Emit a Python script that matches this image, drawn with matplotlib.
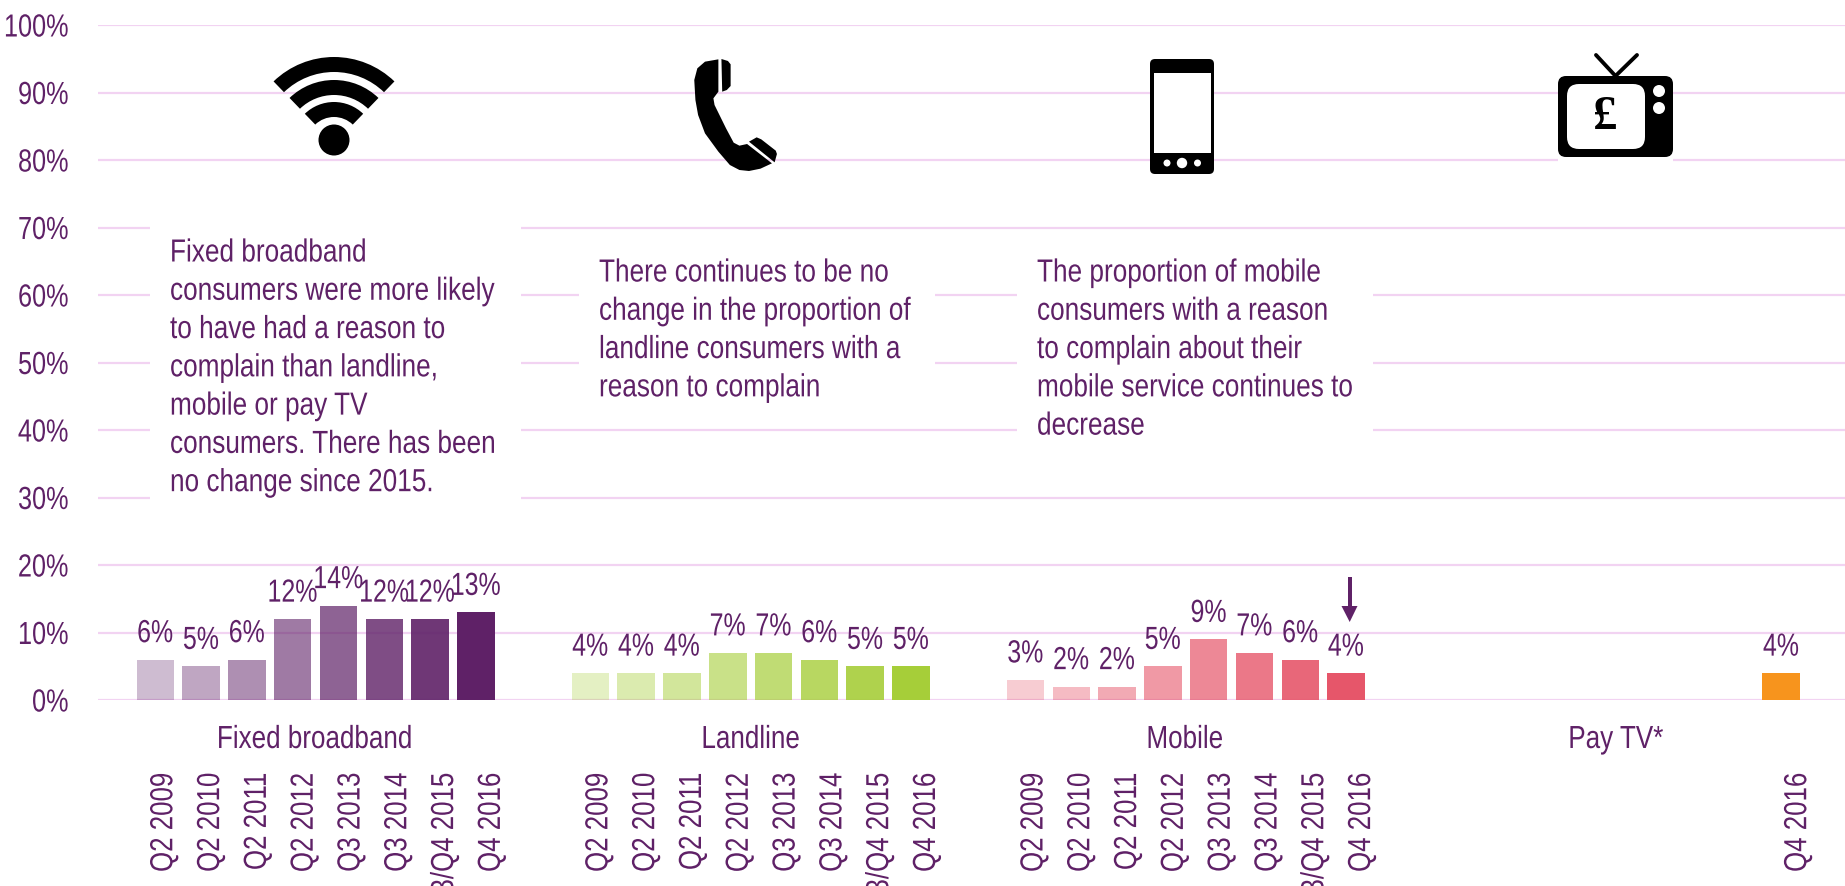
import matplotlib
matplotlib.use("Agg")
import matplotlib.pyplot as plt
from matplotlib.patches import Wedge, Circle, Ellipse, FancyBboxPatch, Rectangle, Polygon
from matplotlib.patheffects import AbstractPathEffect
from matplotlib.transforms import Affine2D, ScaledTranslation

quarters = ["Q2 2009", "Q2 2010", "Q2 2011", "Q2 2012", "Q3 2013", "Q3 2014", "Q3/Q4 2015", "Q4 2016"]
fixed_vals = [6, 5, 6, 12, 14, 12, 12, 13]
landline_vals = [4, 4, 4, 7, 7, 6, 5, 5]
mobile_vals = [3, 2, 2, 5, 9, 7, 6, 4]
paytv_vals = [4]
paytv_quarters = ["Q4 2016"]
group_names = ["Fixed broadband", "Landline", "Mobile", "Pay TV*"]
yticks = [0, 10, 20, 30, 40, 50, 60, 70, 80, 90, 100]

fixed_text = "Fixed broadband\nconsumers were more likely\nto have had a reason to\ncomplain than landline,\nmobile or pay TV\nconsumers. There has been\nno change since 2015."
landline_text = "There continues to be no\nchange in the proportion of\nlandline consumers with a\nreason to complain"
mobile_text = "The proportion of mobile\nconsumers with a reason\nto complain about their\nmobile service continues to\ndecrease"

PURPLE = "#5F2167"
GRID = "#F2D3F2"
FS = 23
W, H = 1845, 886


# no narrow font installed, so squeeze the glyphs of normal text along the line
class Squeeze(AbstractPathEffect):
    def __init__(self, s=0.79, anchor=0.0):
        super().__init__()
        self.s = s
        self.anchor = anchor

    def draw_path(self, renderer, gc, tpath, affine, rgbFace=None):
        w = tpath.get_extents().x1
        shift = (1 - self.s) * w * self.anchor
        renderer.draw_path(gc, tpath, Affine2D().scale(self.s, 1).translate(shift, 0) + affine, rgbFace)


plt.rcParams["font.family"] = ["Liberation Sans", "DejaVu Sans"]

fig = plt.figure(figsize=(W / 100, H / 100), dpi=100)
ax = fig.add_axes([98 / W, 1 - 700 / H, (W - 98) / W, 675 / H])

pitch = 45.8
x0 = 155.3
ax.set_xlim((98 - x0) / pitch, (W - x0) / pitch)
ax.set_ylim(0, 100)

groups = [
    (0, fixed_vals, quarters, PURPLE, [0.3, 0.4, 0.5, 0.6, 0.7, 0.8, 0.9, 1.0]),
    (9.5, landline_vals, quarters, "#A6CE39", [0.3, 0.4, 0.5, 0.6, 0.7, 0.8, 0.9, 1.0]),
    (19, mobile_vals, quarters, "#E6566A", [0.3, 0.4, 0.5, 0.6, 0.7, 0.8, 0.9, 1.0]),
    (35.5, paytv_vals, paytv_quarters, "#F7941D", [1.0]),
]

ticks = []
ticklabels = []
label_shift = []
for start, vals, labs, col, alphas in groups:
    for i, v in enumerate(vals):
        ax.bar(start + i, v, width=0.82, color=col, alpha=alphas[i], zorder=3)
        t = ax.annotate(f"{v}%", (start + i, v), xytext=(0, 12.5), textcoords="offset points",
                        ha="center", va="baseline", fontsize=FS, color=PURPLE, zorder=5)
        t.set_path_effects([Squeeze(0.78, 0.5)])
        ticks.append(start + i)
        ticklabels.append(labs[i])
        # the rotated labels run a little wider than the bars
        label_shift.append(17 if len(vals) == 1 else 9 + i)

ax.set_yticks(yticks)
ax.set_yticklabels([f"{y}%" for y in yticks])
ax.set_xticks(ticks)
ax.set_xticklabels(ticklabels, rotation=90, va="top", ha="center")
ax.tick_params(axis="both", length=0, labelsize=FS, labelcolor=PURPLE)
ax.tick_params(axis="y", pad=21)
ax.tick_params(axis="x", pad=52)
ax.yaxis.grid(True, color=GRID, linewidth=1.6, zorder=0)
ax.set_axisbelow(True)
for s in ax.spines.values():
    s.set_visible(False)

for lab, dx in zip(ax.get_xticklabels(), label_shift):
    lab.set_transform(lab.get_transform() + ScaledTranslation(dx / 100, 0, fig.dpi_scale_trans))
    lab.set_path_effects([Squeeze(0.81, 1.0)])
for lab in ax.get_yticklabels():
    lab.set_path_effects([Squeeze(0.79, 1.0)])

# overlay in pixels for the text boxes and icons
pix = fig.add_axes([0, 0, 1, 1], facecolor="none")
pix.set_xlim(0, W)
pix.set_ylim(H, 0)
pix.axis("off")

for x1, y1, x2, y2 in [(150, 215, 521, 510), (579, 280, 935, 375), (1017, 280, 1373, 442), (1558, 155, 1673, 165)]:
    pix.add_patch(Rectangle((x1, y1), x2 - x1, y2 - y1, color="white", lw=0, zorder=1))

for name, cx in zip(group_names, [315, 751, 1185, 1616]):
    t = pix.text(cx, 748, name, ha="center", va="baseline", fontsize=FS, color=PURPLE, zorder=5)
    t.set_path_effects([Squeeze(0.815, 0.5)])

for txt, tx, ty in [(fixed_text, 170, 238.5), (landline_text, 599, 258.5), (mobile_text, 1037, 258.5)]:
    t = pix.text(tx, ty, txt, ha="left", va="top", fontsize=FS, color=PURPLE, linespacing=1.36, zorder=5)
    t.set_path_effects([Squeeze(0.82, 0.0)])

# arrow over the mobile Q4 2016 bar
pix.add_patch(Rectangle((1348, 577), 3.5, 32, color=PURPLE, lw=0, zorder=5))
pix.add_patch(Polygon([(1341.5, 606), (1357.5, 606), (1349.7, 622)], color=PURPLE, lw=0, zorder=5))

# wifi icon
for r_out, r_in in [(87, 72), (64, 49), (42, 27)]:
    # y axis is flipped in this overlay so angles are mirrored
    pix.add_patch(Wedge((334, 144), r_out, 226, 314, width=r_out - r_in, color="black", lw=0, zorder=4))
pix.add_patch(Circle((334, 140), 15.5, color="black", lw=0, zorder=4))


# landline handset, outline
def hs(pts):
    return [(240 + x / 2.613, 30 + y / 3) for x, y in pts]


body = [(1250, 88), (1215, 95), (1195, 115), (1187, 150), (1190, 210), (1197, 255), (1215, 310), (1250, 365),
        (1280, 405), (1305, 420), (1330, 423), (1360, 416), (1390, 400), (1325, 342), (1305, 347), (1290, 338),
        (1270, 295), (1240, 225), (1237, 205), (1250, 185)]
pix.add_patch(Polygon(hs(body), color="black", lw=0, zorder=4))
ear = [(1258, 87), (1275, 93), (1282, 103), (1282, 168), (1272, 180), (1260, 185)]
pix.add_patch(Polygon(hs(ear), color="black", lw=0, zorder=4))
mouth = [(1330, 335), (1350, 322), (1362, 328), (1400, 362), (1403, 372), (1397, 397)]
pix.add_patch(Polygon(hs(mouth), color="black", lw=0, zorder=4))

# mobile phone icon
pix.add_patch(FancyBboxPatch((1154, 63), 56, 107, boxstyle="round,pad=4,rounding_size=5", color="black", lw=0, zorder=4))
pix.add_patch(Rectangle((1154, 73), 57, 80, color="white", lw=0, zorder=4))
pix.add_patch(Circle((1167, 163), 3.5, color="white", lw=0, zorder=4))
pix.add_patch(Circle((1182, 163), 5.2, color="white", lw=0, zorder=4))
pix.add_patch(Circle((1197.5, 163), 3.5, color="white", lw=0, zorder=4))

# tv icon
pix.add_patch(FancyBboxPatch((1564, 82), 103, 69, boxstyle="round,pad=6,rounding_size=8", color="black", lw=0, zorder=4))
pix.add_patch(FancyBboxPatch((1575, 92), 62, 49, boxstyle="round,pad=8,rounding_size=12", color="white", lw=0, zorder=4))
pix.add_patch(Ellipse((1659, 91), 12, 12, color="white", lw=0, zorder=4))
pix.add_patch(Ellipse((1659, 108), 12, 12, color="white", lw=0, zorder=4))
pix.plot([1596, 1615.5, 1637], [55, 76, 55], color="black", lw=2.8, solid_capstyle="round", zorder=4)
pix.text(1605, 117, "\u00a3", ha="center", va="center", fontsize=35, color="black", weight="bold",
         family=["Liberation Serif", "DejaVu Serif"], zorder=5)

fig.savefig("out.png", dpi=100)
